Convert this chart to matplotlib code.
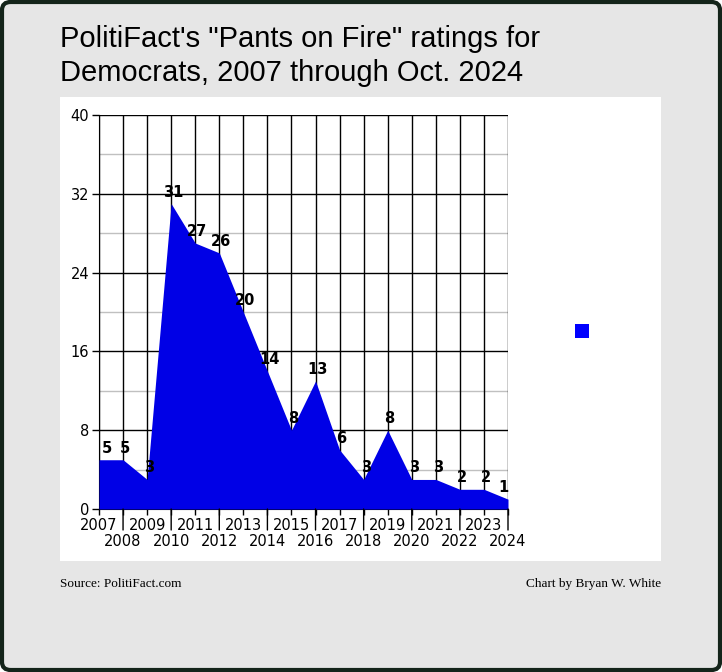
import matplotlib.pyplot as plt
from matplotlib.patches import FancyBboxPatch, Rectangle

years = [2007, 2008, 2009, 2010, 2011, 2012, 2013, 2014, 2015,
         2016, 2017, 2018, 2019, 2020, 2021, 2022, 2023, 2024]
pants_on_fire = [5, 5, 3, 31, 27, 26, 20, 14, 8, 13, 6, 3, 8, 3, 3, 2, 2, 1]

W, H = 722, 672
fig = plt.figure(figsize=(W / 100, H / 100), dpi=100)
fig.patch.set_facecolor('white')

# background card with dark border
fig.patches.append(FancyBboxPatch((2 / W, 2 / H), 1 - 4 / W, 1 - 4 / H,
                                  boxstyle='round,pad=0,rounding_size=0.012',
                                  transform=fig.transFigure, facecolor='#e6e6e6',
                                  edgecolor='#14241a', linewidth=3, zorder=0))
# white chart panel
fig.patches.append(Rectangle((60 / W, 1 - 561 / H), 601 / W, 464 / H,
                             transform=fig.transFigure, facecolor='white',
                             edgecolor='none', zorder=1))

fig.text(60 / W, 1 - 25 / H, "PolitiFact's \"Pants on Fire\" ratings for\nDemocrats, 2007 through Oct. 2024",
         fontsize=21, family='Liberation Sans', va='top', ha='left', linespacing=1.27)

fig.text(60 / W, 1 - 584 / H, 'Source: PolitiFact.com', fontsize=9.5,
         family='Liberation Serif', va='center', ha='left')
fig.text(661 / W, 1 - 584 / H, 'Chart by Bryan W. White', fontsize=9.5,
         family='Liberation Serif', va='center', ha='right')

ax = fig.add_axes([99 / W, 1 - 509 / H, 409 / W, 394 / H])
ax.set_zorder(5)
ax.patch.set_alpha(0)
ax.fill_between(years, pants_on_fire, 0, color='#0000e6', linewidth=0, zorder=3)
ax.set_xlim(2007, 2024)
ax.set_ylim(0, 40)

for y in range(4, 40, 8):
    ax.axhline(y, color='#c0c0c0', lw=1, zorder=1)
for y in range(8, 41, 8):
    ax.axhline(y, color='black', lw=1, zorder=2)
for x in years:
    ax.axvline(x, color='black', lw=1, zorder=2)

for i, (x, v) in enumerate(zip(years, pants_on_fire)):
    dx = 2
    if i == 0:
        dx = 8   # kept inside the plot area
    elif i == len(years) - 1:
        dx = -5
    ax.annotate(str(v), (x, v), xytext=(dx, 7), textcoords='offset pixels',
                ha='center', va='baseline', fontsize=10.5, fontweight='bold',
                family='DejaVu Sans', zorder=5)

ax.set_yticks(range(0, 41, 8))
ax.tick_params(axis='y', length=5, width=1, labelsize=10.5, pad=2)
ax.set_xticks(years)
ax.set_xticklabels([])
for x in years:
    if x % 2 == 1:
        ax.annotate(str(x), (x, 0), xytext=(0, -16), textcoords='offset pixels',
                    ha='center', va='center', fontsize=10.5, annotation_clip=False)
    else:
        ax.annotate('', (x, 0), xytext=(0, -21), textcoords='offset pixels',
                    arrowprops=dict(arrowstyle='-', lw=1, color='black',
                                    shrinkA=0, shrinkB=0), annotation_clip=False)
        ax.annotate(str(x), (x, 0), xytext=(0, -33), textcoords='offset pixels',
                    ha='center', va='center', fontsize=10.5, annotation_clip=False)
ax.tick_params(axis='x', length=4, width=1)
for s in ['top', 'right']:
    ax.spines[s].set_visible(False)

# legend marker with no text
fig.patches.append(Rectangle((575 / W, 1 - 338 / H), 14 / W, 14 / H,
                             transform=fig.transFigure, facecolor='#0000ff',
                             edgecolor='none', zorder=3))

fig.savefig('out.png', dpi=100)
